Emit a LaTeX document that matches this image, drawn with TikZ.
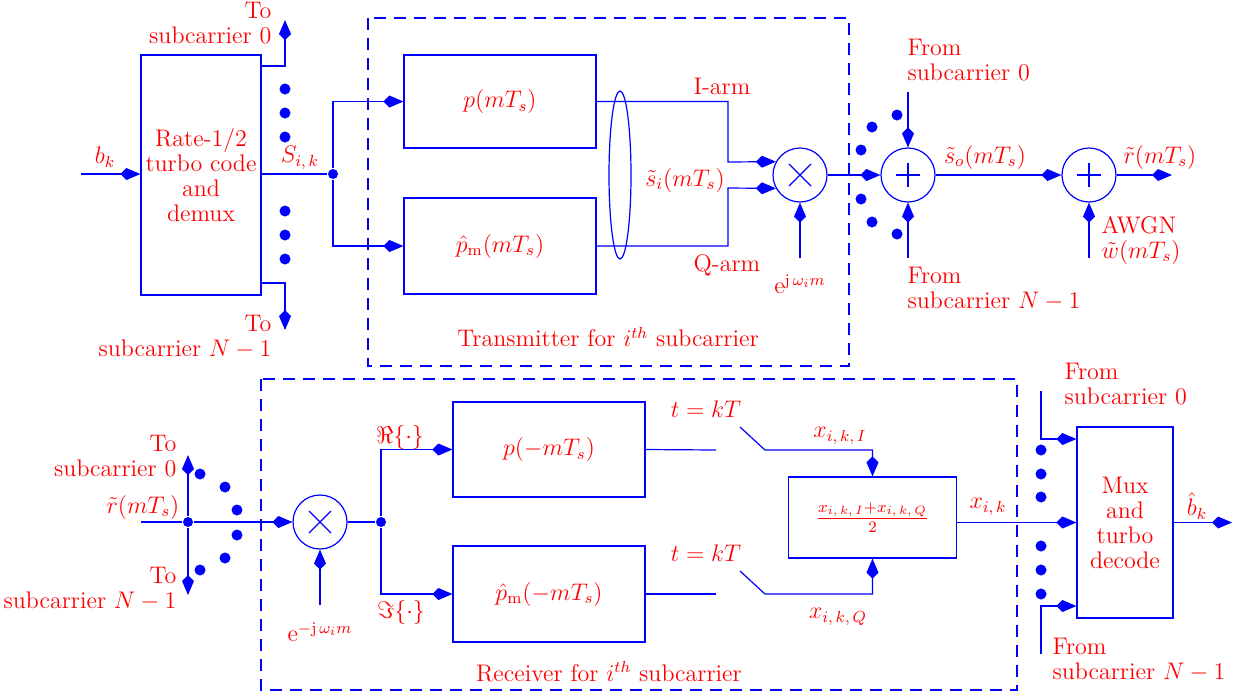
\documentclass[tikz,border=0pt]{standalone}
\usetikzlibrary{arrows.meta}
\begin{document}
\begin{tikzpicture}[x=0.5pt,y=-0.5pt, line width=0.6pt,
  every node/.style={text=red, font=\fontsize{12}{12.5}\selectfont},
  box/.style={draw=blue, rectangle, align=center, inner sep=0pt},
  circ/.style={draw=blue, circle, minimum size=27pt, inner sep=0pt},
  arr/.style={color=blue, -{Kite[length=10pt,width=6pt,inset=3pt]}},
  ln/.style={color=blue},
  dotn/.style={circle, fill=blue, inner sep=0pt, minimum size=5.5pt},
  jdot/.style={circle, fill=blue, inner sep=0pt, minimum size=5pt},
  lbl/.style={inner sep=0pt},
  dashframe/.style={color=blue, dash pattern=on 6pt off 4pt}]
\useasboundingbox (0,0) rectangle (1236,698);

% frames first
\draw[dashframe] (368,18) rectangle (849,366);
\draw[dashframe] (261,379) rectangle (1017,690);

% ---------------- Transmitter ----------------
\node[box, minimum width=60pt, minimum height=120pt] (enc) at (201,175)
  {Rate-1/2\\turbo code\\and\\demux};
\coordinate (bin) at (81,174);
\draw[arr] (bin) -- (enc.west |- bin);
\node[lbl] (bk) at (105,157) {$b_k$};

\coordinate (to0) at (285,20);
\coordinate (toN) at (285,330);
\draw[arr] (enc.east |- 0,66) -| (to0);
\draw[arr] (enc.east |- 0,283) -| (toN);
\node[lbl, align=right, anchor=east] (lto0) at (272,23) {To\\subcarrier 0};
\node[lbl, align=right, anchor=east] (ltoN) at (272,337) {To\\subcarrier $N-1$};
\foreach \yy [count=\i] in {89,113,137,211,235,259}
  \node[dotn] (td\i) at (285,\yy) {};

\node[jdot] (j1) at (333,174) {};
\draw[ln] (enc.east |- j1) -- (j1);
\node[lbl] (sik) at (300,158) {$S_{i,\,k}$};

\node[box, minimum width=96pt, minimum height=46.5pt] (p) at (500,101.5) {$p(mT_s)$};
\node[box, minimum width=96pt, minimum height=48pt] (ph) at (500,246) {$\hat{p}_{\mathrm{m}}(mT_s)$};
\draw[arr] (j1) |- (p.west);
\draw[arr] (j1) |- (ph.west);

\draw[blue] (620,175) ellipse [x radius=5.5pt, y radius=42pt];

\node[circ] (mix) at (800,175) {};
\draw[blue] (mix.center) +(-11,-11) -- +(11,11);
\draw[blue] (mix.center) +(-11,11) -- +(11,-11);
\draw[arr] (p.east) -| (728,162) -- (mix.151);
\draw[arr] (ph.east) -| (728,188) -- (mix.209);
\coordinate (ejw) at (800,258);
\draw[arr] (ejw) -- (mix.south);
\node[lbl] (lejw) at (800,284) {$\mathrm{e}^{\mathrm{j}\,\omega_i m}$};

\node[lbl] (iarm) at (722,86) {I-arm};
\node[lbl] (si) at (685,180) {$\tilde{s}_i(mT_s)$};
\node[lbl] (qarm) at (727,265) {Q-arm};

\node[lbl] (tx) at (608,337) {Transmitter for $i^{th}$ subcarrier};

\node[circ] (add1) at (908,175) {};
\draw[blue] (add1.center) +(-12,0) -- +(12,0);
\draw[blue] (add1.center) +(0,-12) -- +(0,12);
\draw[arr] (mix.east) -- (add1.west);
\coordinate (f0a) at (908,92);
\coordinate (fNa) at (908,258);
\draw[arr] (f0a) -- (add1.north);
\draw[arr] (fNa) -- (add1.south);
\node[lbl, align=left, anchor=west] (lf0a) at (907,60) {From\\subcarrier 0};
\node[lbl, align=left, anchor=west] (lfNa) at (907,289) {From\\subcarrier $N-1$};
\node[dotn] (ad1) at (897,115) {};
\node[dotn] (ad2) at (872,127) {};
\node[dotn] (ad3) at (861,150) {};
\node[dotn] (ad4) at (861,199) {};
\node[dotn] (ad5) at (872,222) {};
\node[dotn] (ad6) at (897,234) {};

\node[circ] (add2) at (1089,175) {};
\draw[blue] (add2.center) +(-12,0) -- +(12,0);
\draw[blue] (add2.center) +(0,-12) -- +(0,12);
\draw[arr] (add1.east) -- (add2.west);
\node[lbl] (so) at (985,157) {$\tilde{s}_o(mT_s)$};
\coordinate (rout) at (1172,175);
\draw[arr] (add2.east) -- (rout);
\node[lbl] (rt) at (1160,157) {$\tilde{r}(mT_s)$};
\coordinate (awgn) at (1089,258);
\draw[arr] (awgn) -- (add2.south);
\node[lbl, align=left, anchor=west] (lawgn) at (1101,240) {AWGN\\$\tilde{w}(mT_s)$};

% ---------------- Receiver ----------------
\coordinate (rin) at (141,522);
\node[jdot] (j2) at (188,522) {};
\node[circ] (mix2) at (320,522) {};
\draw[blue] (mix2.center) +(-11,-11) -- +(11,11);
\draw[blue] (mix2.center) +(-11,11) -- +(11,-11);
\draw[ln] (rin) -- (j2);
\draw[arr] (j2) -- (mix2.west);
\coordinate (rto0) at (188,455);
\coordinate (rtoN) at (188,595);
\draw[arr] (j2) -- (rto0);
\draw[arr] (j2) -- (rtoN);
\node[lbl, align=right, anchor=east] (lrto0) at (177,456) {To\\subcarrier 0};
\node[lbl, align=right, anchor=east] (lrtoN) at (177,589) {To\\subcarrier $N-1$};
\node[lbl] (rin2) at (143,507) {$\tilde{r}(mT_s)$};
\node[dotn] (rd1) at (200,474) {};
\node[dotn] (rd2) at (225,487) {};
\node[dotn] (rd3) at (237,510) {};
\node[dotn] (rd4) at (237,535) {};
\node[dotn] (rd5) at (225,558) {};
\node[dotn] (rd6) at (200,570) {};

\coordinate (emjw) at (320,605);
\draw[arr] (emjw) -- (mix2.south);
\node[lbl] (lemjw) at (320,632) {$\mathrm{e}^{-\mathrm{j}\,\omega_i m}$};

\node[jdot] (j3) at (381,522) {};
\draw[ln] (mix2.east) -- (j3);
\node[box, minimum width=96pt, minimum height=47.5pt] (p2) at (549,449.5) {$p(-mT_s)$};
\node[box, minimum width=96pt, minimum height=48pt] (ph2) at (549,594) {$\hat{p}_{\mathrm{m}}(-mT_s)$};
\draw[arr] (j3) |- (p2.west);
\draw[arr] (j3) |- (ph2.west);
\node[lbl] (re) at (400,437) {$\Re\{\cdot\}$};
\node[lbl] (im) at (401,612) {$\Im\{\cdot\}$};

\node[box, minimum width=84pt, minimum height=40.5pt] (avg) at (872.5,517.5)
  {$\frac{x_{i,\,k,\,I}+x_{i,\,k,\,Q}}{2}$};

\coordinate (swI) at (716,450);
\coordinate (swIa) at (740,427);
\coordinate (swIb) at (765,450);
\draw[ln] (p2.east) -- (swI);
\draw[arr] (swIa) -- (swIb) -| (avg.north);
\coordinate (swQ) at (716,594);
\coordinate (swQa) at (740,571);
\coordinate (swQb) at (765,594);
\draw[ln] (ph2.east) -- (swQ);
\draw[arr] (swQa) -- (swQb) -| (avg.south);
\node[lbl] (t1) at (706,409) {$t=kT$};
\node[lbl] (t2) at (706,553) {$t=kT$};
\node[lbl] (xI) at (840,436) {$x_{i,\,k,\,I}$};
\node[lbl] (xQ) at (838,617) {$x_{i,\,k,\,Q}$};

\node[lbl] (rx) at (609,672) {Receiver for $i^{th}$ subcarrier};

\node[box, minimum width=48pt, minimum height=95.5pt] (mux) at (1125,522.5)
  {Mux\\and\\turbo\\decode};
\draw[arr] (avg.east |- mux.west) -- (mux.west);
\node[lbl] (xik) at (988,507) {$x_{i,\,k}$};
\coordinate (mf0) at (1041,391);
\coordinate (mfN) at (1041,654);
\draw[arr] (mf0) |- (mux.west |- 0,439);
\draw[arr] (mfN) |- (mux.west |- 0,606);
\node[lbl, align=left, anchor=west] (lmf0) at (1064,384) {From\\subcarrier 0};
\node[lbl, align=left, anchor=west] (lmfN) at (1052,660) {From\\subcarrier $N-1$};
\foreach \yy [count=\i] in {450,474,497,546,570,594}
  \node[dotn] (md\i) at (1041,\yy) {};
\coordinate (bout) at (1232,522);
\draw[arr] (mux.east) -- (bout |- mux.east);
\node[lbl] (bh) at (1197,506) {$\hat{b}_k$};
\end{tikzpicture}
\end{document}
